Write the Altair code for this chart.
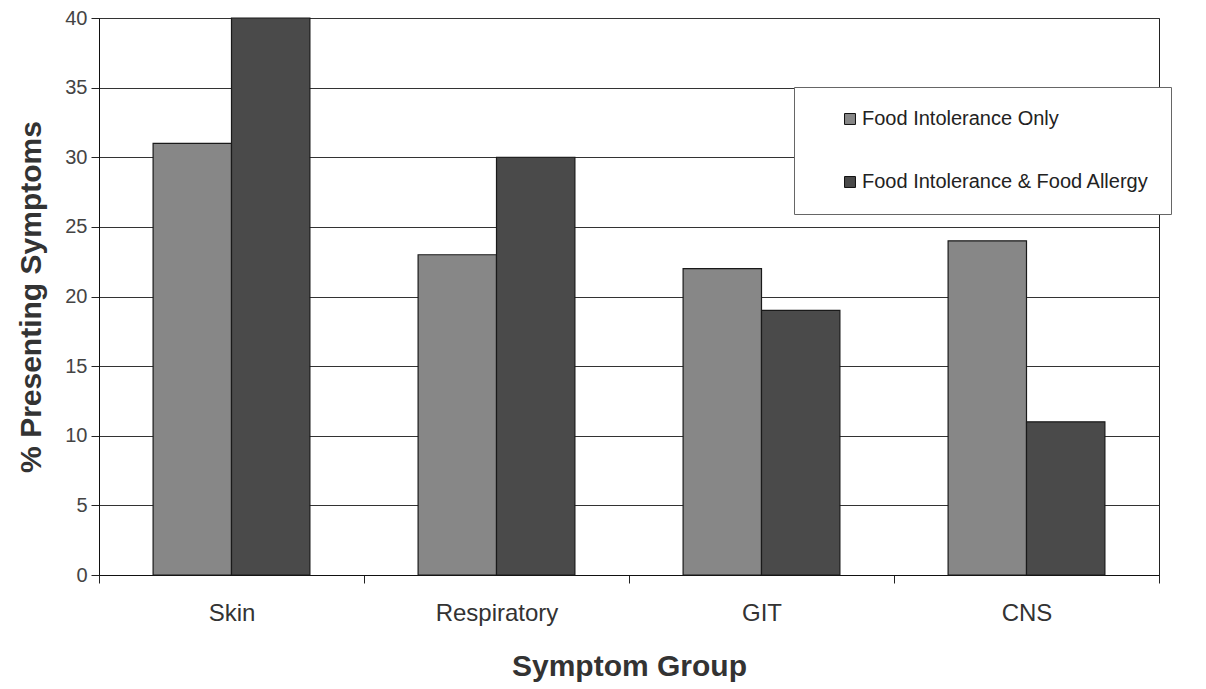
import altair as alt
import pandas as pd

# Symptom groups and the share of patients presenting each one (%)
categories = ["Skin", "Respiratory", "GIT", "CNS"]
series = ["Food Intolerance Only", "Food Intolerance & Food Allergy"]
intolerance_only = [31, 23, 22, 24]
intolerance_allergy = [40, 30, 19, 11]
y_ticks = [0, 5, 10, 15, 20, 25, 30, 35, 40]

rows = []
for cat, a, b in zip(categories, intolerance_only, intolerance_allergy):
    rows.append({"group": cat, "series": series[0], "pct": a})
    rows.append({"group": cat, "series": series[1], "pct": b})
df = pd.DataFrame(rows)

FONT = "Liberation Sans"

chart = (
    alt.Chart(df)
    .mark_bar(stroke="#1a1a1a", strokeWidth=1.2)
    .encode(
        x=alt.X(
            "group:N",
            sort=categories,
            # full-width bands so the category ticks fall between groups
            scale=alt.Scale(paddingInner=0, paddingOuter=0),
            axis=alt.Axis(
                title="Symptom Group",
                labelAngle=0,
                tickBand="extent",
                tickSize=8,
                tickColor="#222",
                domainColor="#111",
                labelFont=FONT,
                labelFontSize=24,
                labelColor="#333",
                labelPadding=18,
                titleFont=FONT,
                titleFontSize=30,
                titleFontWeight="bold",
                titleColor="#333",
                titlePadding=26,
                grid=False,
            ),
        ),
        xOffset=alt.XOffset(
            "series:N",
            sort=series,
            scale=alt.Scale(paddingInner=0, paddingOuter=0.69),
        ),
        y=alt.Y(
            "pct:Q",
            scale=alt.Scale(domain=[0, 40], nice=False),
            axis=alt.Axis(
                title="% Presenting Symptoms",
                values=y_ticks,
                tickSize=8,
                tickColor="#222",
                domainColor="#111",
                gridColor="#333",
                gridWidth=1,
                labelFont=FONT,
                labelFontSize=20,
                labelColor="#444",
                labelPadding=4,
                titleFont=FONT,
                titleFontSize=30,
                titleFontWeight="bold",
                titleColor="#333",
                titlePadding=18,
            ),
        ),
        color=alt.Color(
            "series:N",
            sort=series,
            scale=alt.Scale(domain=series, range=["#878787", "#4a4a4a"]),
            legend=alt.Legend(
                title=None,
                orient="none",
                legendX=695,
                legendY=69,
                fillColor="white",
                strokeColor="#666",
                padding=22,
                symbolType="square",
                symbolSize=120,
                symbolStrokeColor="#111",
                symbolStrokeWidth=1,
                symbolOffset=24,
                labelOffset=2,
                labelFont=FONT,
                labelFontSize=20,
                labelColor="#222",
                labelLimit=400,
                rowPadding=43,
            ),
        ),
    )
    .properties(
        width=1060,
        height=557,
        padding={"left": 16, "top": 8, "right": 10, "bottom": 5},
    )
    .configure_view(stroke="#222", strokeWidth=1)
)

chart.save("out.html", embed_options={"renderer": "svg", "actions": False})
